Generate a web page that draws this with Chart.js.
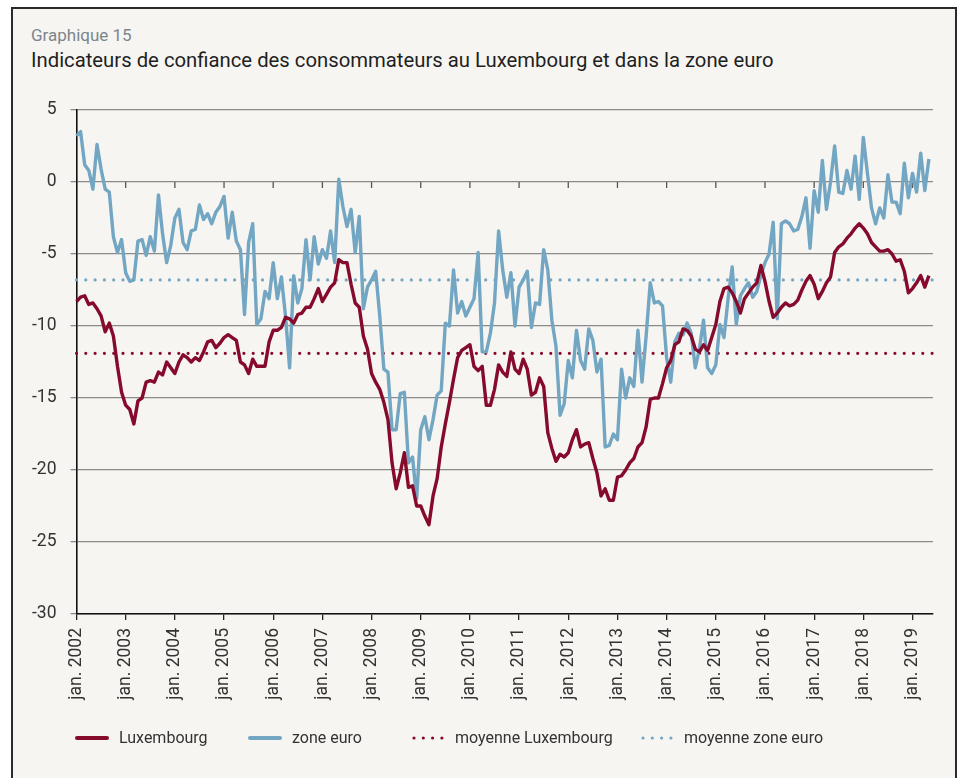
<!DOCTYPE html>
<html lang="fr">
<head>
<meta charset="utf-8">
<title>Graphique 15</title>
<script src="https://cdn.jsdelivr.net/npm/chart.js@4.4.1/dist/chart.umd.min.js"></script>
<style>
  html, body { margin: 0; padding: 0; background: #fff; }
  body { width: 962px; height: 778px; position: relative; overflow: hidden; font-family: Roboto, "Open Sans", sans-serif; }
  .frame { position: absolute; left: 11px; top: 7px; width: 942px; height: 800px; border: 2.5px solid #2b2b2b; background: #f6f5f1; }
  .surtitre { position: absolute; left: 31px; top: 25px; font-size: 17px; color: #7c858d; }
  .titre { position: absolute; left: 31px; top: 48px; font-size: 20.3px; color: #1f1f1f; }
  #chart { position: absolute; left: 0; top: 0; }
  .leg { position: absolute; top: 728px; font-size: 16px; color: #333; line-height: 20px; }
  .leg svg { position: absolute; top: 0; }
</style>
</head>
<body>
<div class="frame"></div>
<div class="surtitre">Graphique 15</div>
<div class="titre">Indicateurs de confiance des consommateurs au Luxembourg et dans la zone euro</div>
<canvas id="chart" width="962" height="778"></canvas>
<div id="legend"></div>
<script>
// monthly, jan. 2002 .. juin 2019 (last month has no value yet)
const startYear = 2002;
const monthCount = 210;

const luxembourg = [
  -8.3, -8.0, -7.9, -8.5, -8.4, -8.8, -9.3, -10.4, -9.8, -10.7, -12.8, -14.6,
  -15.5, -15.8, -16.8, -15.2, -15.0, -13.9, -13.8, -13.9, -13.2, -13.4, -12.5, -12.9,
  -13.3, -12.5, -12.0, -12.2, -12.5, -12.2, -12.4, -11.8, -11.1, -11.0, -11.5, -11.2,
  -10.8, -10.6, -10.8, -11.0, -12.5, -12.7, -13.3, -12.3, -12.8, -12.8, -12.8, -11.1,
  -10.3, -10.3, -10.1, -9.4, -9.5, -9.8, -9.2, -9.1, -8.7, -8.7, -8.1, -7.4,
  -8.3, -7.8, -7.3, -7.0, -5.4, -5.6, -5.6, -7.1, -8.4, -8.7, -10.7, -11.6,
  -13.3, -13.9, -14.4, -15.3, -16.5, -19.5, -21.3, -20.2, -18.8, -21.2, -21.1, -22.5,
  -22.5, -23.2, -23.8, -21.8, -20.6, -18.4, -16.8, -15.3, -13.7, -12.2, -11.7, -11.5,
  -11.3, -12.8, -13.1, -12.8, -15.5, -15.5, -14.4, -12.7, -13.2, -13.5, -11.8, -13.0,
  -13.3, -12.3, -13.0, -14.8, -14.6, -13.6, -14.2, -17.4, -18.5, -19.4, -18.9, -19.1,
  -18.8, -17.9, -17.2, -18.4, -18.2, -18.1, -19.2, -20.2, -21.8, -21.3, -22.1, -22.1,
  -20.5, -20.4, -20.0, -19.5, -19.2, -18.4, -18.1, -17.0, -15.1, -15.0, -15.0, -14.0,
  -12.9, -12.4, -11.3, -11.1, -10.2, -10.3, -10.7, -11.6, -11.8, -11.3, -11.7, -10.8,
  -9.9, -8.3, -7.4, -7.3, -7.7, -8.3, -9.1, -8.1, -7.7, -7.3, -7.0, -5.8,
  -6.9, -8.3, -9.4, -9.1, -8.7, -8.4, -8.6, -8.5, -8.2, -7.5, -6.9, -6.5,
  -7.1, -8.1, -7.6, -7.0, -6.6, -4.9, -4.5, -4.3, -3.9, -3.6, -3.2, -2.9,
  -3.2, -3.6, -4.2, -4.5, -4.8, -4.8, -4.7, -5.0, -5.5, -5.4, -6.2, -7.7,
  -7.4, -7.0, -6.5, -7.3, -6.5
];

const zoneEuro = [
  3.2, 3.5, 1.2, 0.8, -0.5, 2.6, 0.9, -0.5, -0.7, -3.8, -4.9, -4.0,
  -6.3, -6.9, -6.8, -4.1, -4.0, -5.1, -3.8, -4.8, -0.9, -3.6, -5.6, -4.4,
  -2.5, -1.9, -4.2, -4.7, -3.4, -3.3, -1.6, -2.6, -2.2, -2.9, -2.1, -1.7,
  -1.0, -3.9, -2.1, -4.1, -4.7, -9.2, -4.2, -2.9, -9.9, -9.5, -7.6, -8.1,
  -5.6, -8.1, -6.6, -9.3, -12.9, -6.5, -8.4, -7.4, -4.0, -6.8, -3.8, -5.7,
  -4.7, -5.3, -3.4, -5.6, 0.2, -1.7, -3.1, -1.9, -4.9, -2.4, -8.8, -7.3,
  -6.8, -6.2, -9.3, -13.0, -13.2, -17.2, -17.2, -14.7, -14.6, -19.5, -19.1, -22.0,
  -17.2, -16.3, -17.9, -16.5, -14.8, -14.5, -9.8, -10.0, -6.1, -9.1, -8.3, -9.3,
  -8.7, -8.1, -4.9, -11.8, -11.8, -10.5, -8.4, -3.4, -6.1, -8.0, -6.3, -10.0,
  -7.3, -6.8, -6.2, -10.1, -8.4, -8.5, -4.7, -6.1, -9.6, -11.4, -16.2, -15.4,
  -12.4, -13.6, -10.3, -12.4, -13.0, -10.2, -11.0, -13.2, -12.3, -18.4, -18.3, -17.5,
  -17.9, -13.0, -15.0, -13.6, -14.2, -10.3, -13.9, -10.7, -7.0, -8.4, -8.3, -8.6,
  -12.2, -13.9, -11.1, -10.5, -10.6, -9.8, -10.5, -12.9, -11.6, -9.6, -12.9, -13.3,
  -12.7, -9.9, -10.8, -8.1, -5.9, -9.9, -7.9, -7.4, -7.0, -8.0, -7.6, -6.5,
  -5.6, -5.0, -2.8, -9.5, -2.9, -2.7, -2.9, -3.4, -3.3, -2.4, -1.1, -4.6,
  -0.6, -2.1, 1.5, -1.9, 0.0, 2.5, -0.7, -0.8, 0.8, -0.5, 1.8, -1.2,
  3.1, 0.6, -1.8, -2.9, -1.8, -2.5, 0.5, -1.4, -1.4, -2.2, 1.3, -1.1,
  0.6, -0.7, 2.0, -0.6, 1.6
];

const moyenneLuxembourg = -11.9;
const moyenneZoneEuro = -6.8;

const yTicks = [5, 0, -5, -10, -15, -20, -25, -30];

const RED = "#850a2c";
const BLUE = "#72a6c3";

const months = Array.from({ length: monthCount }, (_, i) => {
  const y = startYear + Math.floor(i / 12);
  const m = (i % 12) + 1;
  return `${y}-${String(m).padStart(2, "0")}`;
});

// small ticks on the zero line at each January
const zeroTicks = {
  id: "zeroTicks",
  beforeDatasetsDraw(chart) {
    const { ctx, scales } = chart;
    const y0 = scales.y.getPixelForValue(0);
    ctx.save();
    ctx.strokeStyle = "#555";
    ctx.lineWidth = 1.3;
    months.forEach((m, i) => {
      if (i % 12 !== 0 || i === 0) return;
      const x = scales.x.getPixelForValue(i);
      ctx.beginPath();
      ctx.moveTo(x, y0);
      ctx.lineTo(x, y0 + 6);
      ctx.stroke();
    });
    ctx.restore();
  }
};

new Chart(document.getElementById("chart"), {
  type: "line",
  data: {
    labels: months,
    datasets: [
      {
        label: "Luxembourg",
        data: luxembourg,
        borderColor: RED,
        borderWidth: 3.4,
        pointRadius: 0,
        tension: 0,
        borderJoinStyle: "round"
      },
      {
        label: "zone euro",
        data: zoneEuro,
        borderColor: BLUE,
        borderWidth: 3.4,
        pointRadius: 0,
        tension: 0,
        borderJoinStyle: "round"
      },
      {
        label: "moyenne Luxembourg",
        data: months.map(() => moyenneLuxembourg),
        borderColor: RED,
        borderWidth: 3.2,
        borderDash: [0, 9.3],
        borderCapStyle: "round",
        pointRadius: 0
      },
      {
        label: "moyenne zone euro",
        data: months.map(() => moyenneZoneEuro),
        borderColor: BLUE,
        borderWidth: 3.2,
        borderDash: [0, 9.3],
        borderCapStyle: "round",
        pointRadius: 0
      }
    ]
  },
  options: {
    responsive: false,
    animation: false,
    events: [],
    layout: { padding: { top: 110, right: 24.5, bottom: 64, left: 0 } },
    plugins: { legend: { display: false }, tooltip: { enabled: false } },
    scales: {
      x: {
        type: "category",
        afterFit: (scale) => { scale.height = 100; },
        grid: {
          drawOnChartArea: false,
          drawTicks: true,
          tickLength: 6,
          lineWidth: 1.3,
          color: (ctx) => (ctx.index % 12 === 0 ? "#222" : "rgba(0,0,0,0)")
        },
        border: { color: "#111", width: 1.6 },
        ticks: {
          autoSkip: false,
          maxRotation: 90,
          minRotation: 90,
          padding: 8,
          color: "#333",
          font: { family: "Roboto", size: 17.5 },
          callback: (val, idx) => (idx % 12 === 0 ? `jan. ${startYear + idx / 12}` : "")
        }
      },
      y: {
        min: -30,
        max: 5,
        afterFit: (scale) => { scale.width = 76.5; },
        afterBuildTicks: (scale) => { scale.ticks = yTicks.map((v) => ({ value: v })); },
        grid: { color: "#8a8a8a", lineWidth: 1.3, tickLength: 6, drawTicks: true },
        border: { color: "#111", width: 1.6 },
        ticks: {
          padding: 14,
          color: "#333",
          font: { family: "Roboto", size: 17.5 }
        }
      }
    }
  },
  plugins: [zeroTicks]
});

// legend
const legendItems = [
  { text: "Luxembourg", color: RED, dotted: false, left: 75 },
  { text: "zone euro", color: BLUE, dotted: false, left: 248 },
  { text: "moyenne Luxembourg", color: RED, dotted: true, left: 412 },
  { text: "moyenne zone euro", color: BLUE, dotted: true, left: 641 }
];
const legend = document.getElementById("legend");
legendItems.forEach((item) => {
  const el = document.createElement("div");
  el.className = "leg";
  el.style.left = item.left + "px";
  const dash = item.dotted ? 'stroke-dasharray="0 9.3" stroke-width="3.2"' : 'stroke-width="4"';
  el.innerHTML =
    `<svg width="34" height="20"><line x1="2" y1="10" x2="${item.dotted ? 31 : 32}" y2="10" stroke="${item.color}" stroke-linecap="round" ${dash}/></svg>` +
    `<span style="margin-left:${item.dotted ? 43 : 44}px">${item.text}</span>`;
  legend.appendChild(el);
});
</script>
</body>
</html>
